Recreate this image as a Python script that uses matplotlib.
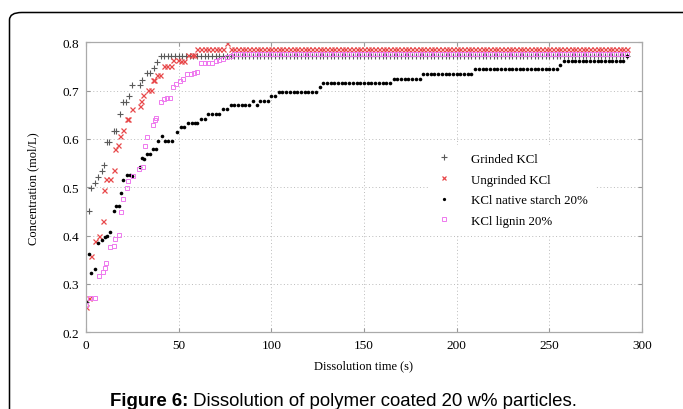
#!/usr/bin/env python3
"""Dissolution curves of polymer coated KCl particles (Figure 6)."""

import matplotlib
matplotlib.use("Agg")
import matplotlib.pyplot as plt
from matplotlib.patches import FancyBboxPatch

# --- data ---------------------------------------------------------------
# shared sampling grid for the long tail of every run (s)
tail_time = [60, 62, 64, 66, 68, 70, 72, 74, 76, 78, 80, 82, 84, 86, 88, 90,
             92, 94, 96, 98, 100, 102, 104, 106, 108, 110, 112, 114, 116, 118,
             120, 122, 124, 126, 128, 130, 132, 134, 136, 138, 140, 142, 144,
             146, 148, 150, 152, 154, 156, 158, 160, 162, 164, 166, 168, 170,
             172, 174, 176, 178, 180, 182, 184, 186, 188, 190, 192, 194, 196,
             198, 200, 202, 204, 206, 208, 210, 212, 214, 216, 218, 220, 222,
             224, 226, 228, 230, 232, 234, 236, 238, 240, 242, 244, 246, 248,
             250, 252, 254, 256, 258, 260, 262, 264, 266, 268, 270, 272, 274,
             276, 278, 280, 282, 284, 286, 288, 290, 292]

# Grinded KCl
grind_t = [0, 1.6, 2.7, 4.8, 6.6, 8.4, 9.9, 11.1, 12.5, 14.9, 16.3, 18.3,
           20.0, 21.5, 23.0, 24.6, 28.9, 30.0, 32.9, 34.8, 36.5, 38.3, 40.3,
           42.0, 44.0, 46.0, 48.0, 50.0, 52.0, 54.0, 56.0, 58.0]
grind_c = [0.262, 0.450, 0.498, 0.509, 0.521, 0.533, 0.546, 0.593, 0.593,
           0.617, 0.617, 0.651, 0.676, 0.676, 0.688, 0.712, 0.712, 0.723,
           0.736, 0.736, 0.746, 0.759, 0.771, 0.771, 0.771, 0.771, 0.771,
           0.771, 0.771, 0.771, 0.771, 0.771]
grind_tail = [0.771, 0.771, 0.771, 0.771, 0.771, 0.771, 0.771, 0.771, 0.771,
              0.771, 0.771, 0.771, 0.771, 0.771, 0.771, 0.771, 0.771, 0.771,
              0.771, 0.771, 0.771, 0.771, 0.771, 0.771, 0.771, 0.771, 0.771,
              0.771, 0.771, 0.771, 0.771, 0.771, 0.771, 0.771, 0.771, 0.771,
              0.771, 0.771, 0.771, 0.771, 0.771, 0.771, 0.771, 0.771, 0.771,
              0.771, 0.771, 0.771, 0.771, 0.771, 0.771, 0.771, 0.771, 0.771,
              0.771, 0.771, 0.771, 0.771, 0.771, 0.771, 0.771, 0.771, 0.771,
              0.771, 0.771, 0.771, 0.771, 0.771, 0.771, 0.771, 0.771, 0.771,
              0.771, 0.771, 0.771, 0.771, 0.771, 0.771, 0.771, 0.771, 0.771,
              0.771, 0.771, 0.771, 0.771, 0.771, 0.771, 0.771, 0.771, 0.771,
              0.771, 0.771, 0.771, 0.771, 0.771, 0.771, 0.771, 0.771, 0.771,
              0.771, 0.771, 0.771, 0.771, 0.771, 0.771, 0.771, 0.771, 0.771,
              0.771, 0.771, 0.771, 0.771, 0.771, 0.771, 0.771, 0.771, 0.771]

# Ungrinded KCl
ungrind_t = [0, 1.4, 2.7, 4.7, 6.8, 9.0, 9.9, 11.0, 12.7, 14.9, 15.8, 17.2,
             18.5, 20.0, 22.0, 22.8, 24.8, 28.9, 29.8, 30.7, 33.4, 35.0, 36.1,
             36.8, 38.3, 40.0, 41.9, 43.7, 45.8, 47.2, 49.4, 51.0, 53.0, 55.0,
             57.0, 58.5]
ungrind_c = [0.252, 0.272, 0.358, 0.389, 0.400, 0.431, 0.495, 0.517, 0.517,
             0.536, 0.579, 0.587, 0.607, 0.619, 0.641, 0.642, 0.661, 0.669,
             0.679, 0.690, 0.702, 0.702, 0.723, 0.722, 0.733, 0.733, 0.752,
             0.752, 0.752, 0.764, 0.764, 0.762, 0.762, 0.774, 0.774, 0.774]
ungrind_tail = [0.786, 0.786, 0.786, 0.786, 0.786, 0.786, 0.786, 0.786, 0.798,
                0.786, 0.786, 0.786, 0.786, 0.786, 0.786, 0.786, 0.786, 0.786,
                0.786, 0.786, 0.786, 0.786, 0.786, 0.786, 0.786, 0.786, 0.786,
                0.786, 0.786, 0.786, 0.786, 0.786, 0.786, 0.786, 0.786, 0.786,
                0.786, 0.786, 0.786, 0.786, 0.786, 0.786, 0.786, 0.786, 0.786,
                0.786, 0.786, 0.786, 0.786, 0.786, 0.786, 0.786, 0.786, 0.786,
                0.786, 0.786, 0.786, 0.786, 0.786, 0.786, 0.786, 0.786, 0.786,
                0.786, 0.786, 0.786, 0.786, 0.786, 0.786, 0.786, 0.786, 0.786,
                0.786, 0.786, 0.786, 0.786, 0.786, 0.786, 0.786, 0.786, 0.786,
                0.786, 0.786, 0.786, 0.786, 0.786, 0.786, 0.786, 0.786, 0.786,
                0.786, 0.786, 0.786, 0.786, 0.786, 0.786, 0.786, 0.786, 0.786,
                0.786, 0.786, 0.786, 0.786, 0.786, 0.786, 0.786, 0.786, 0.786,
                0.786, 0.786, 0.786, 0.786, 0.786, 0.786, 0.786, 0.786, 0.786]

# KCl native starch 20%
starch_t = [0, 1.6, 2.7, 4.8, 6.6, 8.6, 10.2, 11.2, 12.9, 14.9, 16.3, 17.8,
            18.9, 19.8, 22.0, 23.5, 25.0, 29.0, 30.3, 31.2, 33.0, 34.6, 36.3,
            37.9, 39.0, 41.0, 42.4, 44.2, 46.4, 49.2, 51.0, 53.0, 55.0, 57.0,
            58.8]
starch_c = [0.263, 0.362, 0.322, 0.331, 0.385, 0.392, 0.398, 0.400, 0.407,
            0.452, 0.462, 0.462, 0.488, 0.516, 0.526, 0.526, 0.524, 0.543,
            0.561, 0.559, 0.569, 0.569, 0.579, 0.579, 0.596, 0.607, 0.596,
            0.596, 0.596, 0.615, 0.624, 0.624, 0.634, 0.634, 0.634]
starch_tail = [0.634, 0.641, 0.641, 0.652, 0.652, 0.652, 0.652, 0.662, 0.662,
               0.670, 0.670, 0.670, 0.670, 0.670, 0.670, 0.679, 0.670, 0.679,
               0.679, 0.679, 0.688, 0.688, 0.697, 0.697, 0.697, 0.697, 0.697,
               0.697, 0.697, 0.697, 0.697, 0.697, 0.697, 0.707, 0.716, 0.716,
               0.716, 0.716, 0.716, 0.716, 0.716, 0.716, 0.716, 0.716, 0.716,
               0.716, 0.716, 0.716, 0.716, 0.716, 0.716, 0.716, 0.716, 0.725,
               0.725, 0.725, 0.725, 0.725, 0.725, 0.725, 0.725, 0.735, 0.735,
               0.735, 0.735, 0.735, 0.735, 0.735, 0.735, 0.735, 0.735, 0.735,
               0.735, 0.735, 0.735, 0.744, 0.744, 0.744, 0.744, 0.744, 0.744,
               0.744, 0.744, 0.744, 0.744, 0.744, 0.744, 0.744, 0.744, 0.744,
               0.744, 0.744, 0.744, 0.744, 0.744, 0.744, 0.744, 0.744, 0.753,
               0.761, 0.761, 0.761, 0.761, 0.761, 0.761, 0.761, 0.761, 0.761,
               0.761, 0.761, 0.761, 0.761, 0.761, 0.761, 0.761, 0.761, 0.771]

# KCl lignin 20%
lignin_t = [0, 2.3, 4.7, 6.8, 9.0, 10.1, 11.0, 12.8, 14.9, 15.8, 17.8, 18.9,
            20.0, 21.9, 22.9, 25.2, 28.8, 30.5, 31.8, 33.0, 35.9, 37.0, 38.0,
            40.6, 42.2, 43.8, 45.4, 47.0, 48.5, 50.6, 52.3, 54.4, 56.4, 58.5]
lignin_c = [0.256, 0.270, 0.271, 0.317, 0.325, 0.334, 0.343, 0.376, 0.379,
            0.393, 0.402, 0.448, 0.476, 0.498, 0.513, 0.524, 0.537, 0.541,
            0.585, 0.604, 0.628, 0.640, 0.643, 0.676, 0.683, 0.684, 0.684,
            0.707, 0.714, 0.720, 0.725, 0.734, 0.735, 0.737]
lignin_tail = [0.739, 0.757, 0.757, 0.757, 0.758, 0.762, 0.764, 0.765, 0.769,
               0.771, 0.775, 0.775, 0.775, 0.775, 0.775, 0.775, 0.775, 0.775,
               0.775, 0.775, 0.775, 0.775, 0.775, 0.775, 0.775, 0.775, 0.775,
               0.775, 0.775, 0.775, 0.775, 0.775, 0.775, 0.775, 0.775, 0.775,
               0.775, 0.775, 0.775, 0.775, 0.775, 0.775, 0.775, 0.775, 0.775,
               0.775, 0.775, 0.775, 0.775, 0.775, 0.775, 0.775, 0.775, 0.775,
               0.775, 0.775, 0.775, 0.775, 0.775, 0.775, 0.775, 0.775, 0.775,
               0.775, 0.775, 0.775, 0.775, 0.775, 0.775, 0.775, 0.775, 0.775,
               0.775, 0.775, 0.775, 0.775, 0.775, 0.775, 0.775, 0.775, 0.775,
               0.775, 0.775, 0.775, 0.775, 0.775, 0.775, 0.775, 0.775, 0.775,
               0.775, 0.775, 0.775, 0.775, 0.775, 0.775, 0.775, 0.775, 0.775,
               0.775, 0.775, 0.775, 0.775, 0.775, 0.775, 0.775, 0.775, 0.775,
               0.775, 0.775, 0.775, 0.775, 0.775, 0.775, 0.775, 0.775, 0.775]

labels = ["Grinded KCl", "Ungrinded KCl", "KCl native starch 20%", "KCl lignin 20%"]
x_ticks = [0, 50, 100, 150, 200, 250, 300]
y_ticks = [0.2, 0.3, 0.4, 0.5, 0.6, 0.7, 0.8]

# --- figure ---------------------------------------------------------------
serif = ["Liberation Serif", "DejaVu Serif"]
plt.rcParams["font.family"] = serif

fig = plt.figure(figsize=(6.83, 4.10), dpi=100)
ax = fig.add_axes([86 / 683, 1 - 333.3 / 410, 556 / 683, 290 / 410])

ax.plot(grind_t + tail_time, grind_c + grind_tail, ls="none", marker="+",
        ms=4.5, mew=0.8, color="#5a5a5a", label=labels[0])
ax.plot(ungrind_t + tail_time, ungrind_c + ungrind_tail, ls="none", marker="x",
        ms=3.6, mew=0.9, color="#e8484a", label=labels[1])
ax.plot(starch_t + tail_time, starch_c + starch_tail, ls="none", marker="o",
        ms=2.6, mew=0, color="black", label=labels[2])
ax.plot(lignin_t + tail_time, lignin_c + lignin_tail, ls="none", marker="s",
        ms=3.2, mew=0.7, mfc="none", color="#ee78ee", label=labels[3])

ax.set_xlim(0, 300)
ax.set_ylim(0.2, 0.8)
ax.set_xticks(x_ticks)
ax.set_yticks(y_ticks)
ax.set_xticklabels([str(v) for v in x_ticks])
ax.set_yticklabels([f"{v:.1f}" for v in y_ticks])
ax.tick_params(labelsize=9.5, direction="in", length=3, color="#999999",
               top=True, right=True, pad=5)
for s in ax.spines.values():
    s.set_color("#aaaaaa")
    s.set_linewidth(0.9)
ax.grid(True, ls=(0, (1, 2.5)), color="#bbbbbb", lw=0.7)
ax.set_axisbelow(True)

ax.set_xlabel("Dissolution time (s)", fontsize=9, labelpad=6)
ax.set_ylabel("Concentration (mol/L)", fontsize=9, labelpad=17)

leg = ax.legend(loc="upper left", bbox_to_anchor=(0.604, 0.668), fontsize=9.3,
                frameon=True, facecolor="white", edgecolor="none",
                framealpha=1, fancybox=False, handlelength=1.2,
                handletextpad=1.5, labelspacing=0.67, borderpad=0.6,
                markerscale=0.9)

# rounded outer frame, bottom edge runs off the image
frame = FancyBboxPatch((9.5 / 683, -0.2), 690 / 683, 1.2 - 13.5 / 410,
                       boxstyle="round,pad=0,rounding_size=0.018",
                       transform=fig.transFigure, fill=False,
                       edgecolor="black", lw=1.1, clip_on=False)
fig.patches.append(frame)

cap = fig.text(110 / 683, 1 - 406.5 / 410, "Figure 6:", fontsize=13.4,
               fontweight="bold", family=["Liberation Sans", "DejaVu Sans"],
               va="baseline", ha="left")
ax.annotate(" Dissolution of polymer coated 20 w% particles.", xy=(1, 0),
            xycoords=cap, va="bottom", ha="left", fontsize=13.4,
            family=["Liberation Sans", "DejaVu Sans"], annotation_clip=False)

fig.savefig("out.png", dpi=100)
